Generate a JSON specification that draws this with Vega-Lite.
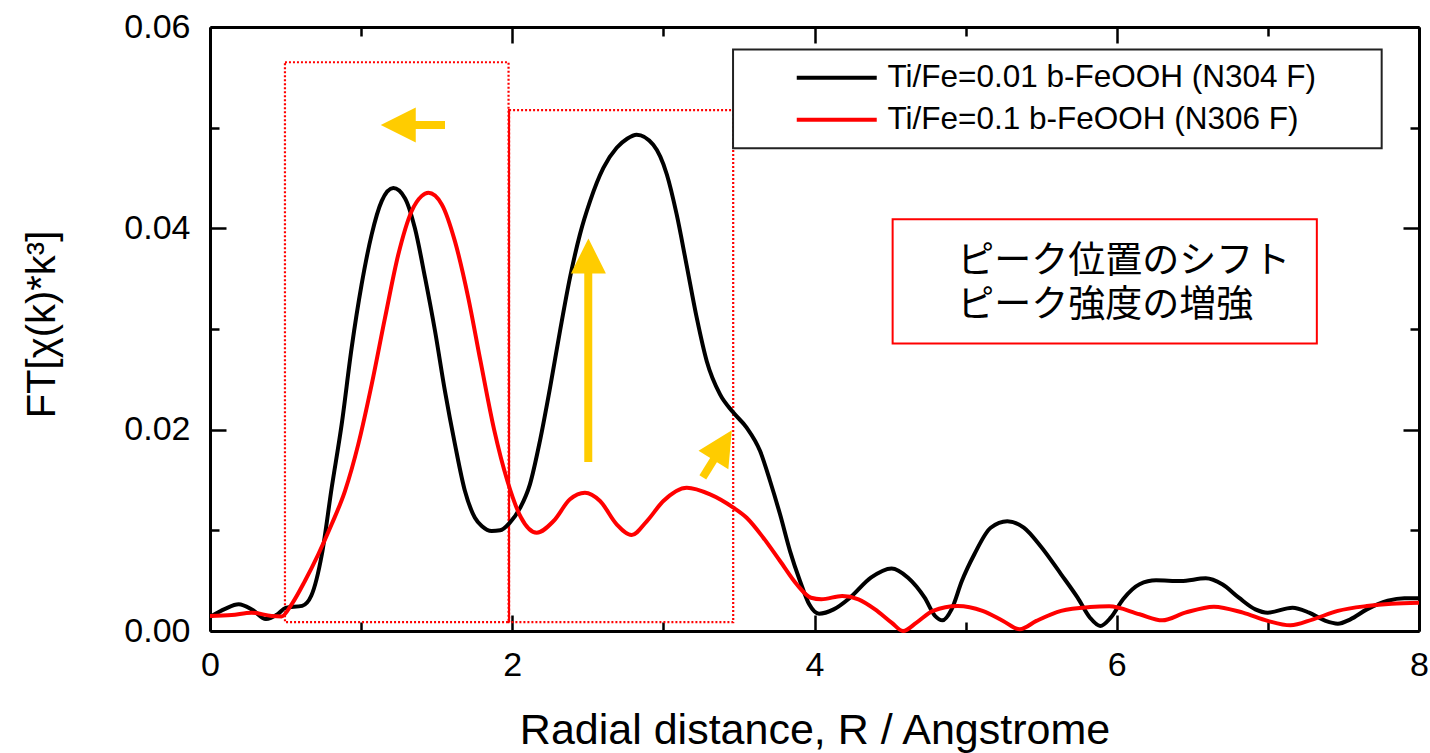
{
  "$schema": "https://vega.github.io/schema/vega-lite/v6.json",
  "width": 1209,
  "height": 604,
  "autosize": {"type": "none"},
  "padding": {"left": 210, "top": 27, "right": 11, "bottom": 122},
  "background": "white",
  "config": {
    "view": {"stroke": null},
    "font": "Liberation Sans",
    "axis": {"grid": false, "tickColor": "black", "domainColor": "black", "labelColor": "black", "titleColor": "black", "tickWidth": 2.5, "domainWidth": 3, "labelFont": "Liberation Sans", "titleFont": "Liberation Sans", "titleFontWeight": "normal"}
  },
  "datasets": {
    "curves": [
      {"R": 0.0, "FT": 0.0014, "sample": "Ti/Fe=0.01 b-FeOOH (N304 F)"},
      {"R": 0.1, "FT": 0.0022, "sample": "Ti/Fe=0.01 b-FeOOH (N304 F)"},
      {"R": 0.19, "FT": 0.00265, "sample": "Ti/Fe=0.01 b-FeOOH (N304 F)"},
      {"R": 0.28, "FT": 0.0021, "sample": "Ti/Fe=0.01 b-FeOOH (N304 F)"},
      {"R": 0.37, "FT": 0.00118, "sample": "Ti/Fe=0.01 b-FeOOH (N304 F)"},
      {"R": 0.45, "FT": 0.0017, "sample": "Ti/Fe=0.01 b-FeOOH (N304 F)"},
      {"R": 0.5, "FT": 0.0023, "sample": "Ti/Fe=0.01 b-FeOOH (N304 F)"},
      {"R": 0.61, "FT": 0.0025, "sample": "Ti/Fe=0.01 b-FeOOH (N304 F)"},
      {"R": 0.67, "FT": 0.0035, "sample": "Ti/Fe=0.01 b-FeOOH (N304 F)"},
      {"R": 0.74, "FT": 0.0076, "sample": "Ti/Fe=0.01 b-FeOOH (N304 F)"},
      {"R": 0.805, "FT": 0.0142, "sample": "Ti/Fe=0.01 b-FeOOH (N304 F)"},
      {"R": 0.871, "FT": 0.0205, "sample": "Ti/Fe=0.01 b-FeOOH (N304 F)"},
      {"R": 0.937, "FT": 0.0281, "sample": "Ti/Fe=0.01 b-FeOOH (N304 F)"},
      {"R": 1.003, "FT": 0.0344, "sample": "Ti/Fe=0.01 b-FeOOH (N304 F)"},
      {"R": 1.07, "FT": 0.0394, "sample": "Ti/Fe=0.01 b-FeOOH (N304 F)"},
      {"R": 1.136, "FT": 0.0427, "sample": "Ti/Fe=0.01 b-FeOOH (N304 F)"},
      {"R": 1.213, "FT": 0.044, "sample": "Ti/Fe=0.01 b-FeOOH (N304 F)"},
      {"R": 1.29, "FT": 0.043, "sample": "Ti/Fe=0.01 b-FeOOH (N304 F)"},
      {"R": 1.356, "FT": 0.04, "sample": "Ti/Fe=0.01 b-FeOOH (N304 F)"},
      {"R": 1.423, "FT": 0.0351, "sample": "Ti/Fe=0.01 b-FeOOH (N304 F)"},
      {"R": 1.489, "FT": 0.0298, "sample": "Ti/Fe=0.01 b-FeOOH (N304 F)"},
      {"R": 1.555, "FT": 0.0238, "sample": "Ti/Fe=0.01 b-FeOOH (N304 F)"},
      {"R": 1.621, "FT": 0.01854, "sample": "Ti/Fe=0.01 b-FeOOH (N304 F)"},
      {"R": 1.687, "FT": 0.0139, "sample": "Ti/Fe=0.01 b-FeOOH (N304 F)"},
      {"R": 1.753, "FT": 0.01125, "sample": "Ti/Fe=0.01 b-FeOOH (N304 F)"},
      {"R": 1.8, "FT": 0.0104, "sample": "Ti/Fe=0.01 b-FeOOH (N304 F)"},
      {"R": 1.864, "FT": 0.00993, "sample": "Ti/Fe=0.01 b-FeOOH (N304 F)"},
      {"R": 1.92, "FT": 0.01, "sample": "Ti/Fe=0.01 b-FeOOH (N304 F)"},
      {"R": 1.983, "FT": 0.01075, "sample": "Ti/Fe=0.01 b-FeOOH (N304 F)"},
      {"R": 2.053, "FT": 0.01225, "sample": "Ti/Fe=0.01 b-FeOOH (N304 F)"},
      {"R": 2.117, "FT": 0.01457, "sample": "Ti/Fe=0.01 b-FeOOH (N304 F)"},
      {"R": 2.183, "FT": 0.01887, "sample": "Ti/Fe=0.01 b-FeOOH (N304 F)"},
      {"R": 2.25, "FT": 0.02416, "sample": "Ti/Fe=0.01 b-FeOOH (N304 F)"},
      {"R": 2.316, "FT": 0.0298, "sample": "Ti/Fe=0.01 b-FeOOH (N304 F)"},
      {"R": 2.382, "FT": 0.0351, "sample": "Ti/Fe=0.01 b-FeOOH (N304 F)"},
      {"R": 2.448, "FT": 0.0394, "sample": "Ti/Fe=0.01 b-FeOOH (N304 F)"},
      {"R": 2.515, "FT": 0.0427, "sample": "Ti/Fe=0.01 b-FeOOH (N304 F)"},
      {"R": 2.603, "FT": 0.046, "sample": "Ti/Fe=0.01 b-FeOOH (N304 F)"},
      {"R": 2.691, "FT": 0.048, "sample": "Ti/Fe=0.01 b-FeOOH (N304 F)"},
      {"R": 2.76, "FT": 0.0489, "sample": "Ti/Fe=0.01 b-FeOOH (N304 F)"},
      {"R": 2.823, "FT": 0.0493, "sample": "Ti/Fe=0.01 b-FeOOH (N304 F)"},
      {"R": 2.933, "FT": 0.0483, "sample": "Ti/Fe=0.01 b-FeOOH (N304 F)"},
      {"R": 3.023, "FT": 0.04535, "sample": "Ti/Fe=0.01 b-FeOOH (N304 F)"},
      {"R": 3.088, "FT": 0.04138, "sample": "Ti/Fe=0.01 b-FeOOH (N304 F)"},
      {"R": 3.153, "FT": 0.0364, "sample": "Ti/Fe=0.01 b-FeOOH (N304 F)"},
      {"R": 3.221, "FT": 0.0311, "sample": "Ti/Fe=0.01 b-FeOOH (N304 F)"},
      {"R": 3.287, "FT": 0.0268, "sample": "Ti/Fe=0.01 b-FeOOH (N304 F)"},
      {"R": 3.375, "FT": 0.0235, "sample": "Ti/Fe=0.01 b-FeOOH (N304 F)"},
      {"R": 3.463, "FT": 0.0217, "sample": "Ti/Fe=0.01 b-FeOOH (N304 F)"},
      {"R": 3.551, "FT": 0.0202, "sample": "Ti/Fe=0.01 b-FeOOH (N304 F)"},
      {"R": 3.64, "FT": 0.01787, "sample": "Ti/Fe=0.01 b-FeOOH (N304 F)"},
      {"R": 3.706, "FT": 0.0149, "sample": "Ti/Fe=0.01 b-FeOOH (N304 F)"},
      {"R": 3.772, "FT": 0.01159, "sample": "Ti/Fe=0.01 b-FeOOH (N304 F)"},
      {"R": 3.838, "FT": 0.00794, "sample": "Ti/Fe=0.01 b-FeOOH (N304 F)"},
      {"R": 3.904, "FT": 0.00497, "sample": "Ti/Fe=0.01 b-FeOOH (N304 F)"},
      {"R": 3.965, "FT": 0.00265, "sample": "Ti/Fe=0.01 b-FeOOH (N304 F)"},
      {"R": 4.03, "FT": 0.00172, "sample": "Ti/Fe=0.01 b-FeOOH (N304 F)"},
      {"R": 4.127, "FT": 0.00215, "sample": "Ti/Fe=0.01 b-FeOOH (N304 F)"},
      {"R": 4.235, "FT": 0.00331, "sample": "Ti/Fe=0.01 b-FeOOH (N304 F)"},
      {"R": 4.373, "FT": 0.0053, "sample": "Ti/Fe=0.01 b-FeOOH (N304 F)"},
      {"R": 4.51, "FT": 0.00622, "sample": "Ti/Fe=0.01 b-FeOOH (N304 F)"},
      {"R": 4.619, "FT": 0.0053, "sample": "Ti/Fe=0.01 b-FeOOH (N304 F)"},
      {"R": 4.729, "FT": 0.00331, "sample": "Ti/Fe=0.01 b-FeOOH (N304 F)"},
      {"R": 4.798, "FT": 0.00149, "sample": "Ti/Fe=0.01 b-FeOOH (N304 F)"},
      {"R": 4.847, "FT": 0.00106, "sample": "Ti/Fe=0.01 b-FeOOH (N304 F)"},
      {"R": 4.907, "FT": 0.00215, "sample": "Ti/Fe=0.01 b-FeOOH (N304 F)"},
      {"R": 4.975, "FT": 0.00497, "sample": "Ti/Fe=0.01 b-FeOOH (N304 F)"},
      {"R": 5.057, "FT": 0.0076, "sample": "Ti/Fe=0.01 b-FeOOH (N304 F)"},
      {"R": 5.166, "FT": 0.01026, "sample": "Ti/Fe=0.01 b-FeOOH (N304 F)"},
      {"R": 5.276, "FT": 0.0109, "sample": "Ti/Fe=0.01 b-FeOOH (N304 F)"},
      {"R": 5.385, "FT": 0.01026, "sample": "Ti/Fe=0.01 b-FeOOH (N304 F)"},
      {"R": 5.495, "FT": 0.00844, "sample": "Ti/Fe=0.01 b-FeOOH (N304 F)"},
      {"R": 5.632, "FT": 0.00563, "sample": "Ti/Fe=0.01 b-FeOOH (N304 F)"},
      {"R": 5.741, "FT": 0.00331, "sample": "Ti/Fe=0.01 b-FeOOH (N304 F)"},
      {"R": 5.823, "FT": 0.00132, "sample": "Ti/Fe=0.01 b-FeOOH (N304 F)"},
      {"R": 5.891, "FT": 0.0005, "sample": "Ti/Fe=0.01 b-FeOOH (N304 F)"},
      {"R": 5.96, "FT": 0.00132, "sample": "Ti/Fe=0.01 b-FeOOH (N304 F)"},
      {"R": 6.042, "FT": 0.00315, "sample": "Ti/Fe=0.01 b-FeOOH (N304 F)"},
      {"R": 6.151, "FT": 0.00464, "sample": "Ti/Fe=0.01 b-FeOOH (N304 F)"},
      {"R": 6.26, "FT": 0.00503, "sample": "Ti/Fe=0.01 b-FeOOH (N304 F)"},
      {"R": 6.424, "FT": 0.00497, "sample": "Ti/Fe=0.01 b-FeOOH (N304 F)"},
      {"R": 6.589, "FT": 0.00523, "sample": "Ti/Fe=0.01 b-FeOOH (N304 F)"},
      {"R": 6.698, "FT": 0.00464, "sample": "Ti/Fe=0.01 b-FeOOH (N304 F)"},
      {"R": 6.808, "FT": 0.00331, "sample": "Ti/Fe=0.01 b-FeOOH (N304 F)"},
      {"R": 6.917, "FT": 0.00215, "sample": "Ti/Fe=0.01 b-FeOOH (N304 F)"},
      {"R": 6.999, "FT": 0.00182, "sample": "Ti/Fe=0.01 b-FeOOH (N304 F)"},
      {"R": 7.163, "FT": 0.00232, "sample": "Ti/Fe=0.01 b-FeOOH (N304 F)"},
      {"R": 7.273, "FT": 0.00182, "sample": "Ti/Fe=0.01 b-FeOOH (N304 F)"},
      {"R": 7.382, "FT": 0.001, "sample": "Ti/Fe=0.01 b-FeOOH (N304 F)"},
      {"R": 7.463, "FT": 0.00073, "sample": "Ti/Fe=0.01 b-FeOOH (N304 F)"},
      {"R": 7.546, "FT": 0.00116, "sample": "Ti/Fe=0.01 b-FeOOH (N304 F)"},
      {"R": 7.655, "FT": 0.00215, "sample": "Ti/Fe=0.01 b-FeOOH (N304 F)"},
      {"R": 7.793, "FT": 0.003, "sample": "Ti/Fe=0.01 b-FeOOH (N304 F)"},
      {"R": 7.903, "FT": 0.00325, "sample": "Ti/Fe=0.01 b-FeOOH (N304 F)"},
      {"R": 8.0, "FT": 0.00325, "sample": "Ti/Fe=0.01 b-FeOOH (N304 F)"},
      {"R": 0.0, "FT": 0.0015, "sample": "Ti/Fe=0.1 b-FeOOH (N306 F)"},
      {"R": 0.143, "FT": 0.00159, "sample": "Ti/Fe=0.1 b-FeOOH (N306 F)"},
      {"R": 0.275, "FT": 0.00182, "sample": "Ti/Fe=0.1 b-FeOOH (N306 F)"},
      {"R": 0.408, "FT": 0.00149, "sample": "Ti/Fe=0.1 b-FeOOH (N306 F)"},
      {"R": 0.474, "FT": 0.00145, "sample": "Ti/Fe=0.1 b-FeOOH (N306 F)"},
      {"R": 0.54, "FT": 0.00265, "sample": "Ti/Fe=0.1 b-FeOOH (N306 F)"},
      {"R": 0.628, "FT": 0.00497, "sample": "Ti/Fe=0.1 b-FeOOH (N306 F)"},
      {"R": 0.716, "FT": 0.0076, "sample": "Ti/Fe=0.1 b-FeOOH (N306 F)"},
      {"R": 0.805, "FT": 0.0106, "sample": "Ti/Fe=0.1 b-FeOOH (N306 F)"},
      {"R": 0.893, "FT": 0.0139, "sample": "Ti/Fe=0.1 b-FeOOH (N306 F)"},
      {"R": 0.981, "FT": 0.01854, "sample": "Ti/Fe=0.1 b-FeOOH (N306 F)"},
      {"R": 1.07, "FT": 0.0245, "sample": "Ti/Fe=0.1 b-FeOOH (N306 F)"},
      {"R": 1.158, "FT": 0.0311, "sample": "Ti/Fe=0.1 b-FeOOH (N306 F)"},
      {"R": 1.246, "FT": 0.0374, "sample": "Ti/Fe=0.1 b-FeOOH (N306 F)"},
      {"R": 1.334, "FT": 0.0417, "sample": "Ti/Fe=0.1 b-FeOOH (N306 F)"},
      {"R": 1.4, "FT": 0.0432, "sample": "Ti/Fe=0.1 b-FeOOH (N306 F)"},
      {"R": 1.445, "FT": 0.04353, "sample": "Ti/Fe=0.1 b-FeOOH (N306 F)"},
      {"R": 1.533, "FT": 0.0424, "sample": "Ti/Fe=0.1 b-FeOOH (N306 F)"},
      {"R": 1.621, "FT": 0.0387, "sample": "Ti/Fe=0.1 b-FeOOH (N306 F)"},
      {"R": 1.709, "FT": 0.0331, "sample": "Ti/Fe=0.1 b-FeOOH (N306 F)"},
      {"R": 1.79, "FT": 0.0268, "sample": "Ti/Fe=0.1 b-FeOOH (N306 F)"},
      {"R": 1.88, "FT": 0.02, "sample": "Ti/Fe=0.1 b-FeOOH (N306 F)"},
      {"R": 1.968, "FT": 0.0149, "sample": "Ti/Fe=0.1 b-FeOOH (N306 F)"},
      {"R": 2.057, "FT": 0.0113, "sample": "Ti/Fe=0.1 b-FeOOH (N306 F)"},
      {"R": 2.162, "FT": 0.00977, "sample": "Ti/Fe=0.1 b-FeOOH (N306 F)"},
      {"R": 2.272, "FT": 0.0109, "sample": "Ti/Fe=0.1 b-FeOOH (N306 F)"},
      {"R": 2.382, "FT": 0.01308, "sample": "Ti/Fe=0.1 b-FeOOH (N306 F)"},
      {"R": 2.481, "FT": 0.01373, "sample": "Ti/Fe=0.1 b-FeOOH (N306 F)"},
      {"R": 2.581, "FT": 0.01291, "sample": "Ti/Fe=0.1 b-FeOOH (N306 F)"},
      {"R": 2.691, "FT": 0.0106, "sample": "Ti/Fe=0.1 b-FeOOH (N306 F)"},
      {"R": 2.79, "FT": 0.00953, "sample": "Ti/Fe=0.1 b-FeOOH (N306 F)"},
      {"R": 2.89, "FT": 0.0109, "sample": "Ti/Fe=0.1 b-FeOOH (N306 F)"},
      {"R": 3.0, "FT": 0.01291, "sample": "Ti/Fe=0.1 b-FeOOH (N306 F)"},
      {"R": 3.155, "FT": 0.01423, "sample": "Ti/Fe=0.1 b-FeOOH (N306 F)"},
      {"R": 3.309, "FT": 0.01357, "sample": "Ti/Fe=0.1 b-FeOOH (N306 F)"},
      {"R": 3.463, "FT": 0.01225, "sample": "Ti/Fe=0.1 b-FeOOH (N306 F)"},
      {"R": 3.551, "FT": 0.01125, "sample": "Ti/Fe=0.1 b-FeOOH (N306 F)"},
      {"R": 3.661, "FT": 0.00927, "sample": "Ti/Fe=0.1 b-FeOOH (N306 F)"},
      {"R": 3.772, "FT": 0.00695, "sample": "Ti/Fe=0.1 b-FeOOH (N306 F)"},
      {"R": 3.882, "FT": 0.00464, "sample": "Ti/Fe=0.1 b-FeOOH (N306 F)"},
      {"R": 3.977, "FT": 0.0033, "sample": "Ti/Fe=0.1 b-FeOOH (N306 F)"},
      {"R": 4.045, "FT": 0.00315, "sample": "Ti/Fe=0.1 b-FeOOH (N306 F)"},
      {"R": 4.183, "FT": 0.00348, "sample": "Ti/Fe=0.1 b-FeOOH (N306 F)"},
      {"R": 4.291, "FT": 0.00315, "sample": "Ti/Fe=0.1 b-FeOOH (N306 F)"},
      {"R": 4.401, "FT": 0.00215, "sample": "Ti/Fe=0.1 b-FeOOH (N306 F)"},
      {"R": 4.51, "FT": 0.00083, "sample": "Ti/Fe=0.1 b-FeOOH (N306 F)"},
      {"R": 4.586, "FT": 0.0, "sample": "Ti/Fe=0.1 b-FeOOH (N306 F)"},
      {"R": 4.675, "FT": 0.00083, "sample": "Ti/Fe=0.1 b-FeOOH (N306 F)"},
      {"R": 4.784, "FT": 0.002, "sample": "Ti/Fe=0.1 b-FeOOH (N306 F)"},
      {"R": 4.948, "FT": 0.00248, "sample": "Ti/Fe=0.1 b-FeOOH (N306 F)"},
      {"R": 5.112, "FT": 0.002, "sample": "Ti/Fe=0.1 b-FeOOH (N306 F)"},
      {"R": 5.248, "FT": 0.001, "sample": "Ti/Fe=0.1 b-FeOOH (N306 F)"},
      {"R": 5.358, "FT": 0.00017, "sample": "Ti/Fe=0.1 b-FeOOH (N306 F)"},
      {"R": 5.468, "FT": 0.001, "sample": "Ti/Fe=0.1 b-FeOOH (N306 F)"},
      {"R": 5.632, "FT": 0.002, "sample": "Ti/Fe=0.1 b-FeOOH (N306 F)"},
      {"R": 5.823, "FT": 0.00238, "sample": "Ti/Fe=0.1 b-FeOOH (N306 F)"},
      {"R": 5.95, "FT": 0.00245, "sample": "Ti/Fe=0.1 b-FeOOH (N306 F)"},
      {"R": 6.151, "FT": 0.00166, "sample": "Ti/Fe=0.1 b-FeOOH (N306 F)"},
      {"R": 6.301, "FT": 0.00106, "sample": "Ti/Fe=0.1 b-FeOOH (N306 F)"},
      {"R": 6.453, "FT": 0.00182, "sample": "Ti/Fe=0.1 b-FeOOH (N306 F)"},
      {"R": 6.643, "FT": 0.00242, "sample": "Ti/Fe=0.1 b-FeOOH (N306 F)"},
      {"R": 6.835, "FT": 0.00182, "sample": "Ti/Fe=0.1 b-FeOOH (N306 F)"},
      {"R": 6.999, "FT": 0.001, "sample": "Ti/Fe=0.1 b-FeOOH (N306 F)"},
      {"R": 7.149, "FT": 0.00056, "sample": "Ti/Fe=0.1 b-FeOOH (N306 F)"},
      {"R": 7.299, "FT": 0.00116, "sample": "Ti/Fe=0.1 b-FeOOH (N306 F)"},
      {"R": 7.463, "FT": 0.002, "sample": "Ti/Fe=0.1 b-FeOOH (N306 F)"},
      {"R": 7.655, "FT": 0.00248, "sample": "Ti/Fe=0.1 b-FeOOH (N306 F)"},
      {"R": 7.819, "FT": 0.00271, "sample": "Ti/Fe=0.1 b-FeOOH (N306 F)"},
      {"R": 8.0, "FT": 0.00281, "sample": "Ti/Fe=0.1 b-FeOOH (N306 F)"}
    ],
    "zones": [
      {"R0": 0.496, "R1": 1.9755, "F0": 0.00088, "F1": 0.0565},
      {"R0": 1.979, "R1": 3.462, "F0": 0.00088, "F1": 0.05175}
    ],
    "zoneEdge": [
      {"R": 1.979, "F0": 0.00088, "F1": 0.05175}
    ],
    "legendFrame": [
      {"R0": 3.461, "R1": 7.753, "F0": 0.04795, "F1": 0.05777}
    ],
    "noteBox": [
      {"R0": 4.517, "R1": 7.324, "F0": 0.02856, "F1": 0.04089}
    ],
    "notes": [
      {"R": 4.945, "F": 0.03669, "note": "ピーク位置のシフト"},
      {"R": 4.945, "F": 0.03232, "note": "ピーク強度の増強"}
    ],
    "arrows": [
      {"R": 1.555, "F": 0.05026, "R2": 1.337, "F2": 0.05026, "tipR": 1.13, "tipF": 0.05026, "heading": 270},
      {"R": 2.503, "F": 0.01678, "R2": 2.503, "F2": 0.03604, "tipR": 2.504, "tipF": 0.039, "heading": 0},
      {"R": 3.261, "F": 0.01526, "R2": 3.345, "F2": 0.0173, "tipR": 3.453, "tipF": 0.01994, "heading": 31.7}
    ]
  },
  "resolve": {"axis": {"x": "independent", "y": "independent"}},
  "layer": [
    {
      "data": {"name": "zones"},
      "mark": {"type": "rect", "fill": null, "fillOpacity": 0, "stroke": "#ff0000", "strokeWidth": 2.2, "strokeDash": [2, 2]},
      "encoding": {
        "x": {"field": "R0", "type": "quantitative", "scale": {"domain": [0, 8], "nice": false, "zero": false},
              "axis": {"orient": "bottom", "values": [1, 3, 5, 7], "labels": false, "domain": false, "tickSize": -9, "title": null}},
        "x2": {"field": "R1"},
        "y": {"field": "F0", "type": "quantitative", "scale": {"domain": [0, 0.06], "nice": false, "zero": false},
              "axis": {"orient": "left", "values": [0.01, 0.03, 0.05], "labels": false, "domain": false, "tickSize": -9, "title": null}},
        "y2": {"field": "F1"}
      }
    },
    {
      "data": {"name": "zoneEdge"},
      "mark": {"type": "rule", "color": "#ff0000", "strokeWidth": 2},
      "encoding": {
        "x": {"field": "R", "type": "quantitative", "scale": {"domain": [0, 8], "nice": false, "zero": false},
              "axis": {"orient": "top", "values": [0, 2, 4, 6, 8], "labels": false, "domain": true, "tickSize": -16, "title": null}},
        "y": {"field": "F0", "type": "quantitative", "scale": {"domain": [0, 0.06], "nice": false, "zero": false},
              "axis": {"orient": "right", "values": [0, 0.02, 0.04, 0.06], "labels": false, "domain": true, "tickSize": -16, "title": null}},
        "y2": {"field": "F1"}
      }
    },
    {
      "data": {"name": "legendFrame"},
      "mark": {"type": "rect", "fill": "white", "stroke": "#222222", "strokeWidth": 2},
      "encoding": {
        "x": {"field": "R0", "type": "quantitative", "scale": {"domain": [0, 8], "nice": false, "zero": false},
              "axis": {"orient": "top", "values": [1, 3, 5, 7], "labels": false, "domain": false, "tickSize": -9, "title": null}},
        "x2": {"field": "R1"},
        "y": {"field": "F0", "type": "quantitative", "scale": {"domain": [0, 0.06], "nice": false, "zero": false},
              "axis": {"orient": "right", "values": [0.01, 0.03, 0.05], "labels": false, "domain": false, "tickSize": -9, "title": null}},
        "y2": {"field": "F1"}
      }
    },
    {
      "data": {"name": "noteBox"},
      "mark": {"type": "rect", "fill": "white", "stroke": "#ff0000", "strokeWidth": 2},
      "encoding": {
        "x": {"field": "R0", "type": "quantitative", "scale": {"domain": [0, 8], "nice": false, "zero": false}, "axis": null},
        "x2": {"field": "R1"},
        "y": {"field": "F0", "type": "quantitative", "scale": {"domain": [0, 0.06], "nice": false, "zero": false}, "axis": null},
        "y2": {"field": "F1"}
      }
    },
    {
      "data": {"name": "notes"},
      "mark": {"type": "text", "align": "left", "baseline": "middle", "font": "Noto Sans CJK JP", "fontSize": 37, "color": "black"},
      "encoding": {
        "x": {"field": "R", "type": "quantitative", "scale": {"domain": [0, 8], "nice": false, "zero": false}, "axis": null},
        "y": {"field": "F", "type": "quantitative", "scale": {"domain": [0, 0.06], "nice": false, "zero": false}, "axis": null},
        "text": {"field": "note", "type": "nominal"}
      }
    },
    {
      "data": {"name": "curves"},
      "mark": {"type": "line", "strokeWidth": 4, "interpolate": "monotone"},
      "encoding": {
        "x": {"field": "R", "type": "quantitative", "scale": {"domain": [0, 8], "nice": false, "zero": false},
              "axis": {"orient": "bottom", "values": [0, 2, 4, 6, 8], "format": "d", "labelFontSize": 34, "labelPadding": 33, "labelFlush": false, "tickSize": -16,
                       "title": "Radial distance, R / Angstrome", "titleFontSize": 43, "titleY": 112, "titleBaseline": "alphabetic"}},
        "y": {"field": "FT", "type": "quantitative", "scale": {"domain": [0, 0.06], "nice": false, "zero": false},
              "axis": {"orient": "left", "values": [0, 0.02, 0.04, 0.06], "format": ".2f", "labelFontSize": 34, "labelPadding": 36, "labelFlush": false, "tickSize": -16,
                       "title": "FT[χ(k)*k³]", "titleFontSize": 40, "titleX": -168, "titleY": 297, "titleBaseline": "middle", "titleAngle": -90}},
        "color": {"field": "sample", "type": "nominal",
                  "scale": {"domain": ["Ti/Fe=0.01 b-FeOOH (N304 F)", "Ti/Fe=0.1 b-FeOOH (N306 F)"], "range": ["#000000", "#ff0000"]},
                  "legend": {"orient": "none", "legendX": 611, "legendY": 35, "title": null, "direction": "vertical", "symbolType": "M-4,0H4", "symbolSize": 400, "symbolStrokeWidth": 4, "symbolOpacity": 1,
                             "labelFontSize": 31.5, "labelFont": "Liberation Sans", "labelColor": "black", "labelOffset": 35, "rowPadding": 9, "padding": 0, "labelLimit": 0}}
      }
    },
    {
      "data": {"name": "arrows"},
      "mark": {"type": "rule", "color": "#ffcc00", "strokeWidth": 8, "strokeCap": "butt"},
      "encoding": {
        "x": {"field": "R", "type": "quantitative", "scale": {"domain": [0, 8], "nice": false, "zero": false}, "axis": null},
        "y": {"field": "F", "type": "quantitative", "scale": {"domain": [0, 0.06], "nice": false, "zero": false}, "axis": null},
        "x2": {"field": "R2"},
        "y2": {"field": "F2"}
      }
    },
    {
      "data": {"name": "arrows"},
      "mark": {"type": "point", "shape": "M0,0L-1,2L1,2Z", "size": 1225, "filled": true, "color": "#ffcc00", "opacity": 1, "strokeWidth": 0},
      "encoding": {
        "x": {"field": "tipR", "type": "quantitative", "scale": {"domain": [0, 8], "nice": false, "zero": false}, "axis": null},
        "y": {"field": "tipF", "type": "quantitative", "scale": {"domain": [0, 0.06], "nice": false, "zero": false}, "axis": null},
        "angle": {"field": "heading", "type": "quantitative", "scale": null}
      }
    }
  ]
}
